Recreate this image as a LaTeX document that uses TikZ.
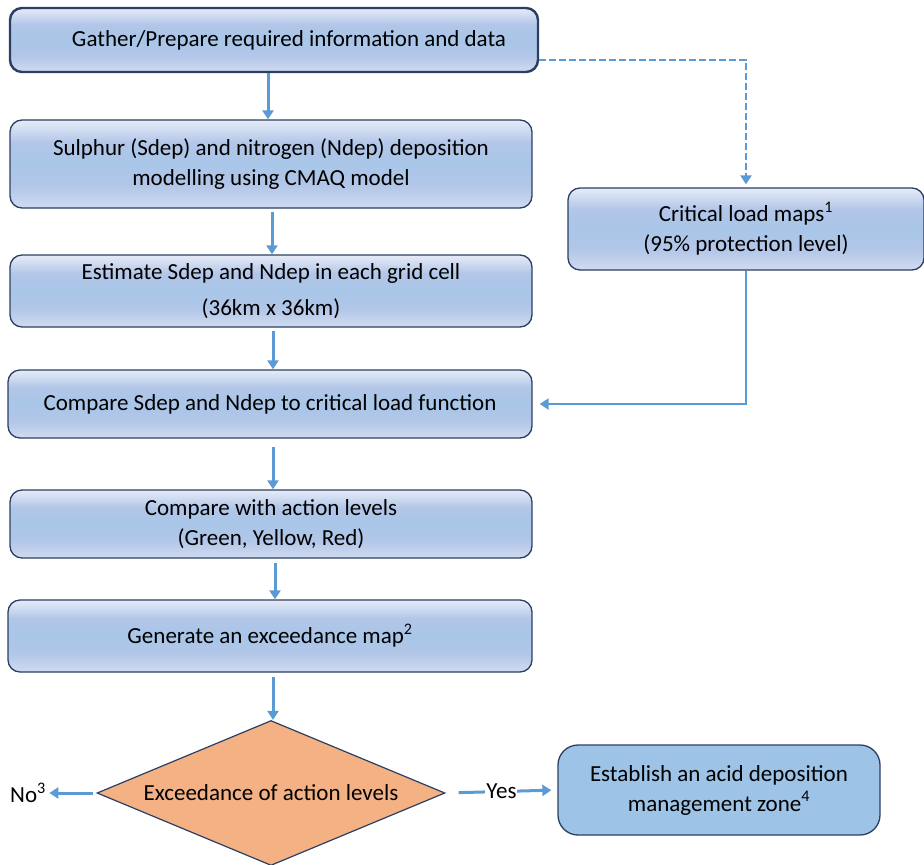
\documentclass[tikz,border=0pt]{standalone}
\usepackage{fontspec}
\setmainfont{Carlito}
\usepackage{tikz}
\usetikzlibrary{arrows.meta}
\usetikzlibrary{shapes.geometric}
\usetikzlibrary{calc}
\definecolor{boxline}{HTML}{2B3F62}
\definecolor{flowarrow}{HTML}{5B9BD5}
\definecolor{boxlight}{HTML}{E6ECF8}
\definecolor{boxmid}{HTML}{B2C6E8}
\definecolor{boxband}{HTML}{A8C6E8}
\definecolor{boxlow}{HTML}{D0DBF0}
\definecolor{decfill}{HTML}{F4B183}
\definecolor{zonefill}{HTML}{9DC3E6}
\pgfdeclareverticalshading{boxshade}{100bp}{color(0bp)=(boxlow); color(25bp)=(boxlow); color(38bp)=(boxmid); color(50bp)=(boxband); color(62bp)=(boxmid); color(75bp)=(boxlight); color(100bp)=(boxlight)}

\begin{document}
\begin{tikzpicture}[x=1pt,y=-1pt,>={Triangle[width=11pt,length=9pt]},
  flowbox/.style={rectangle,rounded corners=12pt,draw=boxline,line width=1.3pt,
    shading=boxshade,align=center,inner sep=0pt,font=\fontsize{23}{30}\selectfont},
  link/.style={->,draw=flowarrow,line width=3pt},
  every node/.style={font=\fontsize{23}{30}\selectfont}]

\useasboundingbox (0,0) rectangle (924,865);

% main column
\node[flowbox,line width=2.4pt,minimum width=528pt,minimum height=64pt] (gather) at (274,40)
  {\hspace*{30pt}Gather/Prepare required information and data};
\node[flowbox,minimum width=522pt,minimum height=88pt] (model) at (271,164)
  {Sulphur (Sdep) and nitrogen (Ndep) deposition\\modelling using CMAQ model};
\node[flowbox,minimum width=522pt,minimum height=72pt] (estimate) at (271,291)
  {Estimate Sdep and Ndep in each grid cell\\[6pt](36km x 36km)};
\node[flowbox,minimum width=524pt,minimum height=68pt] (compare) at (270,404)
  {Compare Sdep and Ndep to critical load function};
\node[flowbox,minimum width=522pt,minimum height=68pt] (action) at (271,524)
  {Compare with action levels\\(Green, Yellow, Red)};
\node[flowbox,minimum width=524pt,minimum height=72pt] (exmap) at (270,636)
  {Generate an exceedance map\textsuperscript{2}};

% decision
\node[diamond,draw=boxline,line width=1.2pt,fill=decfill,minimum width=348pt,
  minimum height=145pt,inner sep=0pt,shape aspect=2.4] (exceed) at (271,793) {};
\node (exceedtxt) at (exceed.center) {Exceedance of action levels};

% side boxes
\node[flowbox,minimum width=356pt,minimum height=82pt] (critical) at (746,229)
  {Critical load maps\textsuperscript{1}\\(95\% protection level)};
\node[rectangle,rounded corners=20pt,draw=boxline,line width=1.3pt,fill=zonefill,
  align=center,minimum width=322pt,minimum height=90pt] (zone) at (719,790)
  {Establish an acid deposition\\management zone\textsuperscript{4}};
\node (no) at (28,793) {No\textsuperscript{3}};

% arrows
\draw[link] (gather.south -| 268,0) -- (model.north -| 268,0);
\draw[link,shorten <=3pt] (model.south -| 272,0) -- (estimate.north -| 272,0);
\draw[link,shorten <=3pt] (estimate.south -| 273,0) -- (compare.north -| 273,0);
\draw[link,shorten <=8pt] (compare.south -| 273,0) -- (action.north -| 273,0);
\draw[link,shorten <=4pt] (action.south -| 275,0) -- (exmap.north -| 275,0);
\draw[link,shorten <=4pt] (exmap.south -| 273,0) -- (exceed.north -| 273,0);

\draw[link,line width=2.4pt,dash pattern=on 7pt off 3pt] ([yshift=-20pt]gather.east) -| ([yshift=3pt]critical.north);
\draw[link,line width=2.4pt,shorten >=7pt] (critical.south) |- (compare.east);

\draw[link,shorten <=3pt] (exceed.west) -- (no.east);
\draw[link,shorten <=13pt,shorten >=6pt] (exceed.east) -- node[fill=white,inner sep=1pt] (yes) {Yes} (zone.west);
\end{tikzpicture}
\end{document}
